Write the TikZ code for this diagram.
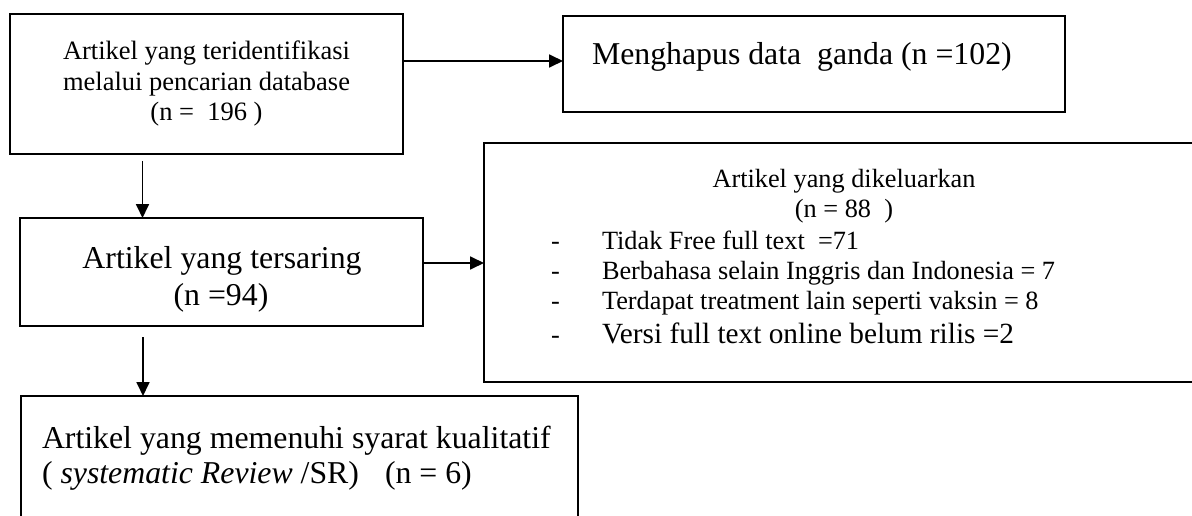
\documentclass[tikz,border=0pt]{standalone}
\usepackage{fontspec}
\setmainfont{Liberation Serif}
\usetikzlibrary{arrows.meta}
\newcommand\fsbig{\fontsize{31.8}{36}\selectfont}
\newcommand\fsmid{\fontsize{26.5}{30}\selectfont}
\newcommand\fsex{\fontsize{26.3}{30}\selectfont}
\newcommand\fsver{\fontsize{29.3}{33}\selectfont}
\begin{document}
\begin{tikzpicture}[x=1pt,y=-1pt,
  box/.style={draw, line width=1.6pt, rectangle, inner sep=0pt, outer sep=0pt},
  txt/.style={inner sep=0pt, outer sep=0pt},
  arr/.style={line width=1.8pt, -{Triangle[length=14pt,width=13pt]}}]
\useasboundingbox (0,0) rectangle (1192,516);
% boxes
\node[box, minimum width=393pt, minimum height=140pt] (box1) at (206.5,84) {};
\node[box, minimum width=502pt, minimum height=96pt] (box2) at (814,64) {};
\node[box, minimum width=716pt, minimum height=239pt] (box3) at (842,262.5) {};
\node[box, minimum width=403pt, minimum height=108pt] (box4) at (221.5,272) {};
\node[box, minimum width=557pt, minimum height=134pt] (box5) at (299.5,463) {};
% box1 text
\node[txt, anchor=base, font=\fsmid] (t1a) at (206.5,60) {Artikel yang teridentifikasi};
\node[txt, anchor=base, font=\fsmid] (t1b) at (206.5,91) {melalui pencarian database};
\node[txt, anchor=base, font=\fsmid] (t1c) at (206.5,121) {(n =~~196 )};
% box2 text
\node[txt, anchor=base west, font=\fsbig] (t2) at (592,65) {Menghapus data~ ganda (n =102)};
% box4 text
\node[txt, anchor=base, font=\fsbig] (t4a) at (222,268) {Artikel yang tersaring};
\node[txt, anchor=base, font=\fsbig] (t4b) at (221,305) {(n =94)};
% box5 text
\node[txt, anchor=base west, font=\fsbig] (t5a) at (42,448) {Artikel yang memenuhi syarat kualitatif};
\node[txt, anchor=base west, font=\fsbig] (t5b) at (42,483) {( \textit{systematic Review} /SR)\hspace{26pt}(n = 6)};
% box3 text
\node[txt, anchor=base, font=\fsex] (t3h) at (844,187) {Artikel yang dikeluarkan};
\node[txt, anchor=base, font=\fsex] (t3n) at (844,217) {(n = 88~ )};
\node[txt, anchor=base west, font=\fsex] (d1) at (551,249) {-};
\node[txt, anchor=base west, font=\fsex] (d2) at (551,279) {-};
\node[txt, anchor=base west, font=\fsex] (d3) at (551,309) {-};
\node[txt, anchor=base west, font=\fsex] (d4) at (551,343) {-};
\node[txt, anchor=base west, font=\fsex] (l1) at (602,249) {Tidak Free full text~ =71};
\node[txt, anchor=base west, font=\fsex] (l2) at (602,279) {Berbahasa selain Inggris dan Indonesia = 7};
\node[txt, anchor=base west, font=\fsex] (l3) at (602,309) {Terdapat treatment lain seperti vaksin = 8};
\node[txt, anchor=base west, font=\fsver] (l4) at (602,343) {Versi full text online belum rilis =2};
% connectors
\coordinate (a1) at ([yshift=23pt]box1.east);
\draw[arr] (a1) -- (a1 -| box2.west);
\coordinate (a2) at ([xshift=132.5pt,yshift=-7pt]box1.south west);
\draw[arr] (a2) -- (a2 |- box4.north);
\coordinate (a3) at ([yshift=9pt]box4.east);
\draw[arr] (a3) -- (a3 -| box3.west);
\coordinate (a4) at ([xshift=123pt,yshift=-11pt]box4.south west);
\draw[arr] (a4) -- (a4 |- box5.north);
\end{tikzpicture}
\end{document}
